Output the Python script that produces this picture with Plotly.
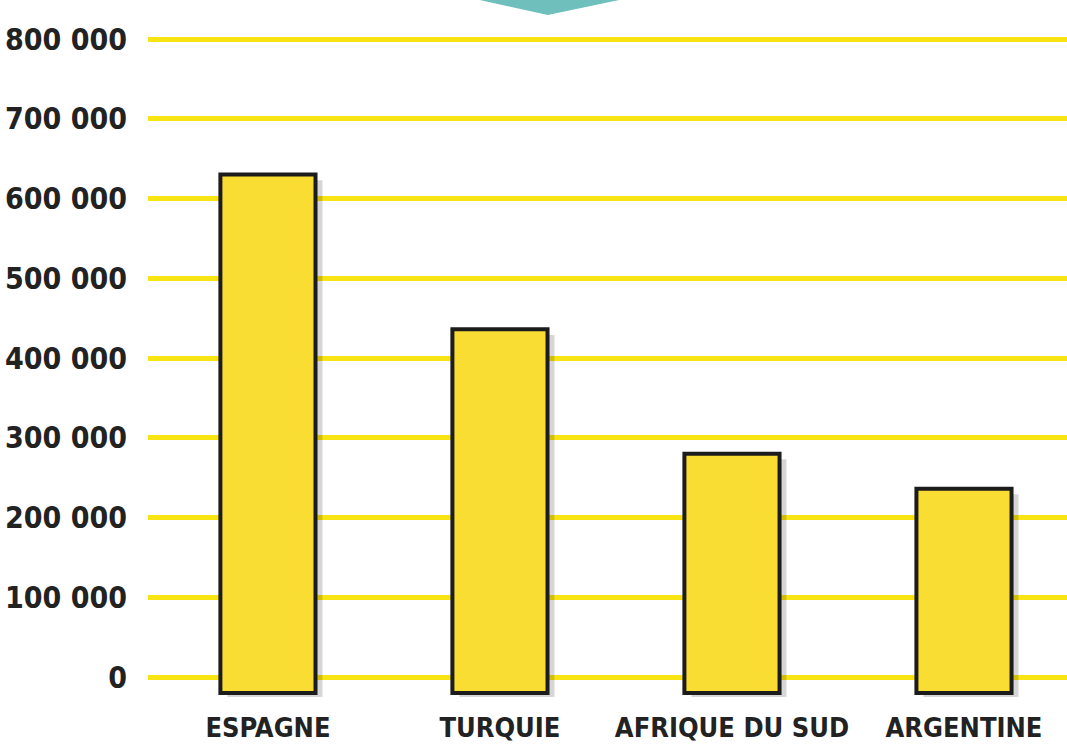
import plotly.graph_objects as go

categories = ["ESPAGNE", "TURQUIE", "AFRIQUE DU SUD", "ARGENTINE"]
values = [630000, 436000, 280000, 236000]
tick_vals = [0, 100000, 200000, 300000, 400000, 500000, 600000, 700000, 800000]
tick_text = ["0", "100 000", "200 000", "300 000", "400 000", "500 000", "600 000", "700 000", "800 000"]

BASE = -20000
FONT = "DejaVu Sans Condensed, Liberation Sans Narrow, sans-serif"

fig = go.Figure()

# soft drop shadow
fig.add_trace(go.Bar(
    x=categories, y=[v - BASE for v in values], base=BASE - 7000,
    width=0.41, offset=-0.205 + 0.03,
    marker=dict(color="rgba(0,0,0,0.16)", line=dict(width=0)),
    hoverinfo="skip", showlegend=False,
))
fig.add_trace(go.Bar(
    x=categories, y=[v - BASE for v in values], base=BASE,
    width=0.41, offset=-0.205,
    marker=dict(color="#f9dd33", line=dict(color="#1c1c1c", width=4)),
    showlegend=False,
    hovertemplate="%{x}: %{customdata:,}<extra></extra>",
    customdata=values,
))

fig.add_shape(type="path", xref="paper", yref="paper",
              path="M 0.334,1.03 L 0.541,1.03 L 0.435,1.0 Z",
              fillcolor="#6fc0bd", line=dict(width=0), layer="above")

fig.update_layout(
    width=1067, height=751,
    margin=dict(l=148, r=0, t=15, b=54),
    paper_bgcolor="white", plot_bgcolor="white",
    barmode="overlay",
    xaxis=dict(
        type="category", range=[-0.517, 3.444], automargin=False,
        showgrid=False, showline=False, zeroline=False, ticks="", tickangle=0,
        tickfont=dict(family=FONT, size=27, color="#222222", weight="bold"),
        ticklabelstandoff=12,
    ),
    yaxis=dict(
        range=[-25078, 830100], automargin=False,
        tickvals=tick_vals, ticktext=tick_text,
        showgrid=True, gridcolor="#f8e313", gridwidth=5,
        zeroline=False, showline=False, ticks="",
        tickfont=dict(family=FONT, size=30, color="#222222", weight="bold"),
        ticklabelstandoff=20,
    ),
)

fig.write_html("out.html", config={"displayModeBar": False},
               post_script="document.body.style.margin='0px';")
